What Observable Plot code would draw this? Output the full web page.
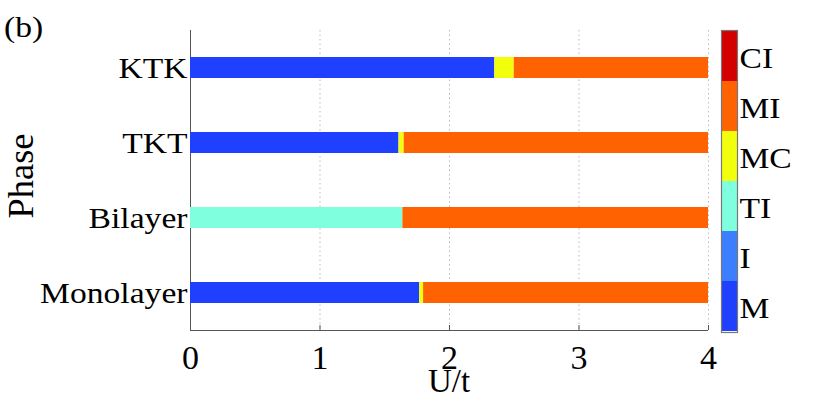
<!DOCTYPE html>
<html>
<head>
<meta charset="utf-8">
<script src="https://cdn.jsdelivr.net/npm/d3@7"></script>
<script src="https://cdn.jsdelivr.net/npm/@observablehq/plot@0.6"></script>
<style>
  html, body { margin: 0; padding: 0; background: #fff; }
  #wrap { position: relative; width: 830px; height: 398px; overflow: hidden; }
  #wrap svg { position: absolute; top: 0; overflow: visible; font-family: "Liberation Serif", "Times New Roman", serif; }
</style>
</head>
<body>
<div id="wrap"></div>
<script>
// ---- data ----
const phases = ["KTK", "TKT", "Bilayer", "Monolayer"];
const states = ["M", "I", "TI", "MC", "MI", "CI"];
const stateColors = ["#2040ff", "#3d7eff", "#80ffdf", "#f2ff0c", "#ff6200", "#d40000"];
const xTicks = [0, 1, 2, 3, 4];

// phase segments along U/t
const segPhase = ["Monolayer", "Monolayer", "Monolayer", "Bilayer", "Bilayer", "TKT", "TKT", "TKT", "KTK", "KTK", "KTK"];
const segState = ["M", "MC", "MI", "TI", "MI", "M", "MC", "MI", "M", "MC", "MI"];
const segStart = [0, 1.77, 1.80, 0, 1.64, 0, 1.61, 1.65, 0, 2.35, 2.50];
const segEnd   = [1.77, 1.80, 4, 1.64, 4, 1.61, 1.65, 4, 2.35, 2.50, 4];

const segments = segPhase.map((p, i) => ({phase: p, state: segState[i], x1: segStart[i], x2: segEnd[i]}));

const FONT = '"Liberation Serif", "Times New Roman", serif';
const STRETCH = " scale(1.12,1)";
const colorScale = {type: "ordinal", domain: states, range: stateColors};

const main = Plot.plot({
  width: 830,
  height: 398,
  marginLeft: 190,
  marginRight: 122,
  marginTop: 30,
  marginBottom: 68,
  style: {fontFamily: FONT, background: "transparent", color: "#000"},
  x: {domain: [0, 4], ticks: xTicks},
  y: {domain: phases, paddingInner: 0.72, paddingOuter: 0.36},
  color: colorScale,
  marks: [
    Plot.ruleX(xTicks.slice(1), {stroke: "#bbb", strokeDasharray: "1.5,3", strokeWidth: 1}),
    Plot.ruleX([0], {stroke: "#555", strokeWidth: 1}),
    Plot.ruleY(phases.slice(-1), {dy: 37.5, stroke: "#555", strokeWidth: 1}),
    Plot.barX(segments, {x1: "x1", x2: "x2", y: "phase", fill: "state", inset: 0}),
    Plot.axisX({ticks: xTicks, tickSize: -5, stroke: "#555", tickFormat: () => "", label: null}),
    Plot.axisX({ticks: xTicks, tickSize: 0, tickPadding: 14, fontSize: 34, label: null, tickFormat: d => String(d)}),
    Plot.axisY({tickSize: 0, tickPadding: 3, fontSize: 30, label: null})
  ]
});
document.getElementById("wrap").appendChild(main);
main.style.left = "0px";

// stretch y tick labels horizontally (reference glyphs are wider)
d3.select(main).selectAll('g[aria-label="y-axis tick label"] text').each(function() {
  const t = this.getAttribute("transform") || "";
  this.setAttribute("transform", t + STRETCH);
});

// extra labels
const svg = d3.select(main);
svg.append("text").attr("transform", "translate(4,37)" + STRETCH).attr("text-anchor", "start").attr("font-size", 30).attr("font-family", FONT).text("(b)");
svg.append("text").attr("x", 449).attr("y", 392).attr("text-anchor", "middle").attr("font-size", 33).attr("font-family", FONT).text("U/t");
svg.append("text").attr("transform", "translate(33,176) rotate(-90) scale(1.04,1)").attr("text-anchor", "middle").attr("font-size", 35).attr("font-family", FONT).text("Phase");

// colorbar
const cbar = Plot.plot({
  width: 110,
  height: 398,
  marginLeft: 1,
  marginRight: 93,
  marginTop: 30,
  marginBottom: 66,
  style: {fontFamily: FONT, background: "transparent", color: "#000"},
  y: {domain: states.slice().reverse(), padding: 0},
  color: colorScale,
  marks: [
    Plot.cell(states, {y: d => d, fill: d => d}),
    Plot.frame({stroke: "#777", strokeWidth: 1.2}),
    Plot.axisY({anchor: "right", tickSize: 0, tickPadding: 2, fontSize: 30, label: null, dy: 2})
  ]
});
document.getElementById("wrap").appendChild(cbar);
cbar.style.left = "720px";
d3.select(cbar).selectAll('g[aria-label="y-axis tick label"] text').each(function() {
  const t = this.getAttribute("transform") || "";
  this.setAttribute("transform", t + STRETCH);
});
</script>
</body>
</html>
